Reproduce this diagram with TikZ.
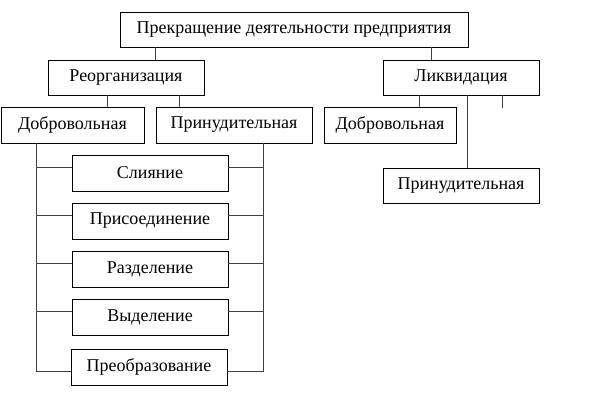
\documentclass[tikz,border=0pt]{standalone}
\usepackage{fontspec}
\setmainfont{Liberation Serif}
\begin{document}
\begin{tikzpicture}[x=1pt,y=-1pt,
  box/.style={draw=black, line width=0.9pt, rectangle, inner sep=0pt, fill=white,
    font=\fontsize{18}{20}\selectfont},
  conn/.style={draw=black!75, line width=0.9pt}]
\useasboundingbox[fill=white] (0,0) rectangle (601,408);
\node[box, minimum width=348, minimum height=35] (top) at (294,29.5) {Прекращение деятельности предприятия};
\node[box, minimum width=156, minimum height=35] (reorg) at (126,77.5) {Реорганизация};
\node[box, minimum width=143, minimum height=36] (dobL) at (72.5,125) {Добровольная};
\node[box, minimum width=156, minimum height=36] (prinL) at (234,125) {Принудительная};
\node[box, minimum width=156, minimum height=36] (sl) at (150,173) {Слияние};
\node[box, minimum width=156, minimum height=36] (pris) at (150,221) {Присоединение};
\node[box, minimum width=156, minimum height=36] (razd) at (150,269) {Разделение};
\node[box, minimum width=156, minimum height=36] (vyd) at (150,317) {Выделение};
\node[box, minimum width=156, minimum height=36] (preob) at (149,367) {Преобразование};
\node[box, minimum width=156, minimum height=35] (likv) at (461,77.5) {Ликвидация};
\node[box, minimum width=132, minimum height=36] (dobR) at (390,125) {Добровольная};
\node[box, minimum width=156, minimum height=35] (prinR) at (461,185.5) {Принудительная};
% connectors
\draw[conn] ([xshift=108]reorg.north west) -- ([xshift=108]reorg.north west |- top.south);
\draw[conn] ([xshift=49]likv.north west) -- ([xshift=49]likv.north west |- top.south);
\draw[conn] ([xshift=60]reorg.south west) -- ([xshift=60]reorg.south west |- dobL.north);
\draw[conn] ([xshift=132]reorg.south west) -- ([xshift=132]reorg.south west |- prinL.north);
% left and right buses
\coordinate (lb) at ([xshift=36]dobL.south west |- 0,371);
\coordinate (rb) at ([xshift=108]prinL.south west |- 0,371);
\draw[conn] ([xshift=36]dobL.south west) -- (lb) -- (preob.west |- lb);
\draw[conn] ([xshift=108]prinL.south west) -- (rb) -- (preob.east |- rb);
\foreach \n in {sl,pris,razd,vyd}{
  \draw[conn] ([yshift=6]\n.west) -- ([yshift=6]\n.west -| lb);
  \draw[conn] ([yshift=6]\n.east) -- ([yshift=6]\n.east -| rb);
}
% liquidation branch
\draw[conn] ([xshift=37]likv.south west) -- ([xshift=37]likv.south west |- dobR.north);
\draw[conn] ([xshift=85]likv.south west) -- ([xshift=85]likv.south west |- prinR.north);
\coordinate (tick) at ([xshift=120,yshift=-13]likv.south west);
\draw[conn] ([xshift=120]likv.south west) -- (tick);
\end{tikzpicture}
\end{document}
